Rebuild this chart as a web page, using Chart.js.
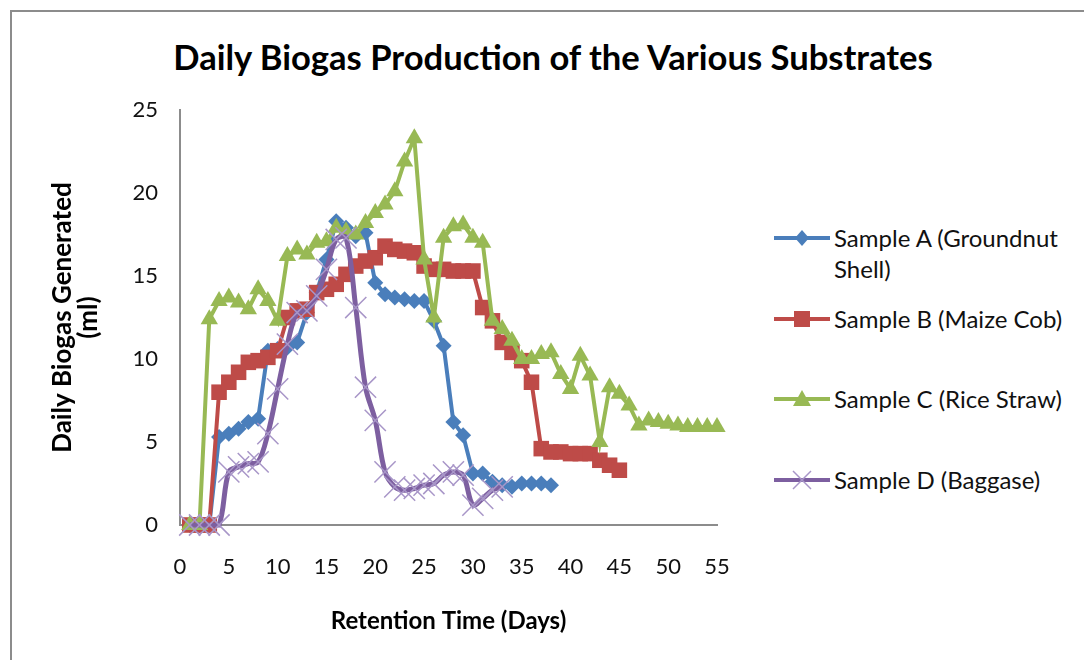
<!DOCTYPE html>
<html>
<head>
<meta charset="utf-8">
<script src="https://cdn.jsdelivr.net/npm/chart.js@4.4.1/dist/chart.umd.min.js"></script>
<style>
  html, body { margin: 0; padding: 0; background: #fff; }
  body { width: 1084px; height: 660px; position: relative; overflow: hidden; font-family: Lato, 'Open Sans', sans-serif; }
  .marco { position: absolute; left: 10px; top: 10px; width: 1090px; height: 700px; border-top: 2px solid #8c8c8c; border-left: 2px solid #8c8c8c; }
  .titulo { position: absolute; left: 22px; right: 0; top: 36px; text-align: center; font-size: 34.6px; font-weight: bold; color: #000; line-height: 42px; }
  #wrap { position: absolute; left: 0; top: 0; width: 760px; height: 660px; }
  .leyenda { position: absolute; left: 774px; top: 0; font-size: 24px; color: #111; }
  .leyenda .item { position: absolute; left: 0; display: flex; align-items: flex-start; white-space: nowrap; }
  .leyenda svg { flex: none; margin-right: 4px; margin-top: 4px; }
  .leyenda span { line-height: 31px; }
</style>
</head>
<body>
<div class="marco"></div>
<div class="titulo">Daily Biogas Production of the Various Substrates</div>
<div id="wrap"><canvas id="grafico" width="760" height="660"></canvas></div>
<div class="leyenda" id="leyenda"></div>
<script>
// Días de retención y biogás diario (ml)
const diasA = [1,2,3,4,5,6,7,8,9,10,11,12,13,14,15,16,17,18,19,20,21,22,23,24,25,26,27,28,29,30,31,32,33,34,35,36,37,38];
const sampleA = [0,0,0,5.3,5.5,5.8,6.2,6.4,10.5,10.6,10.7,11.0,12.8,14.0,16.0,18.3,17.9,17.4,17.6,14.6,13.9,13.7,13.6,13.5,13.5,12.3,10.8,6.2,5.4,3.1,3.1,2.6,2.4,2.3,2.5,2.5,2.5,2.4];

const diasB = [1,2,3,4,5,6,7,8,9,10,11,12,13,14,15,16,17,18,19,20,21,22,23,24,25,26,27,28,29,30,31,32,33,34,35,36,37,38,39,40,41,42,43,44,45];
const sampleB = [0,0,0,8.0,8.6,9.2,9.8,9.9,10.1,10.5,12.5,12.9,13.0,14.0,14.2,14.5,15.1,15.6,15.9,16.1,16.8,16.6,16.5,16.4,15.6,15.4,15.4,15.3,15.3,15.3,13.1,12.3,11.0,10.4,9.9,8.6,4.6,4.4,4.4,4.3,4.3,4.3,3.9,3.6,3.3];

const diasC = [1,2,3,4,5,6,7,8,9,10,11,12,13,14,15,16,17,18,19,20,21,22,23,24,25,26,27,28,29,30,31,32,33,34,35,36,37,38,39,40,41,42,43,44,45,46,47,48,49,50,51,52,53,54,55];
const sampleC = [0,0,12.4,13.5,13.7,13.4,13.0,14.2,13.5,12.3,16.2,16.6,16.3,17.0,17.1,17.9,17.7,17.5,18.2,18.8,19.3,20.1,21.9,23.3,16.0,12.5,17.3,18.0,18.1,17.3,17.0,12.3,11.8,11.1,10.0,10.0,10.3,10.4,9.1,8.2,10.2,9.0,5.0,8.3,7.9,7.2,6.0,6.3,6.2,6.1,6.0,5.9,5.9,5.9,5.9];

const diasD = [1,2,3,4,5,6,7,8,9,10,11,12,13,14,15,16,17,18,19,20,21,22,23,24,25,26,27,28,29,30,31,32,33];
const sampleD = [0,0,0,0,3.2,3.5,3.7,3.8,5.5,8.2,10.9,12.8,12.9,13.8,15.4,17.2,17.3,13.1,8.3,6.3,3.2,2.3,2.1,2.2,2.4,2.5,3.0,3.2,3.0,1.2,1.6,2.1,2.3];

const etiquetas = ['Sample A (Groundnut Shell)', 'Sample B (Maize Cob)', 'Sample C (Rice Straw)', 'Sample D (Baggase)'];

const AZUL = '#4a7ebb', ROJO = '#be4b48', VERDE = '#98b954', VIOLETA = '#7d5fa0', VIOLETA_CLARO = '#a896c8';

const puntos = (xs, ys) => xs.map((x, i) => ({ x, y: ys[i] }));

const series = [
  { label: etiquetas[0], data: puntos(diasA, sampleA), borderColor: AZUL, backgroundColor: AZUL,
    borderWidth: 4, pointStyle: 'rectRot', pointRadius: 8, pointBorderWidth: 0, tension: 0, order: 4 },
  { label: etiquetas[1], data: puntos(diasB, sampleB), borderColor: ROJO, backgroundColor: ROJO,
    borderWidth: 4, pointStyle: 'rect', pointRadius: 11, pointBorderWidth: 0, tension: 0, order: 3 },
  { label: etiquetas[2], data: puntos(diasC, sampleC), borderColor: VERDE, backgroundColor: VERDE,
    borderWidth: 4, pointStyle: 'triangle', pointRadius: 10, pointBorderWidth: 0, tension: 0, order: 2 },
  { label: etiquetas[3], data: puntos(diasD, sampleD), borderColor: VIOLETA, backgroundColor: VIOLETA_CLARO,
    pointBorderColor: VIOLETA_CLARO, borderWidth: 5, pointStyle: 'crossRot', pointRadius: 15, pointBorderWidth: 1.5,
    tension: 0.35, order: 1 },
].map(s => ({ ...s, clip: false, fill: false }));

Chart.defaults.font.family = 'Lato, "Open Sans", sans-serif';
Chart.defaults.color = '#111';

new Chart(document.getElementById('grafico'), {
  type: 'line',
  data: { datasets: series },
  options: {
    responsive: false,
    animation: false,
    layout: { padding: { top: 110, right: 43, left: 0, bottom: 0 } },
    plugins: { legend: { display: false }, tooltip: { enabled: false } },
    scales: {
      x: {
        type: 'linear', min: 0, max: 55,
        ticks: { stepSize: 5, padding: 29, font: { size: 22 }, maxRotation: 0 },
        grid: { display: false, drawTicks: false },
        border: { display: true, color: '#8c8c8c', width: 2 },
        title: { display: true, text: 'Retention Time (Days)', font: { size: 24, weight: 'bold' }, padding: { top: 0, bottom: 24 }, color: '#000' },
        afterFit: s => { s.height = 135; },
      },
      y: {
        min: 0, max: 25,
        ticks: { stepSize: 5, padding: 22, font: { size: 22 } },
        grid: { display: false, drawTicks: false },
        border: { display: true, color: '#8c8c8c', width: 2 },
        title: { display: true, text: ['Daily Biogas Generated', '(ml)'], font: { size: 26, weight: 'bold', lineHeight: 1 }, padding: { top: 50, bottom: 0 }, color: '#000' },
        afterFit: s => { s.width = 180; },
      },
    },
  },
});

// Leyenda al estilo Excel: línea con marcador
function icono(tipo, color, marca) {
  let m = '';
  if (tipo === 'rombo') m = `<polygon points="28,4 35,12 28,20 21,12" fill="${color}"/>`;
  if (tipo === 'cuadrado') m = `<rect x="20" y="4" width="16" height="16" fill="${color}"/>`;
  if (tipo === 'triangulo') m = `<polygon points="28,3 37,19 19,19" fill="${color}"/>`;
  if (tipo === 'cruz') m = `<path d="M19 3 L37 21 M37 3 L19 21" stroke="${marca}" stroke-width="1.5"/>`;
  return `<svg width="56" height="24"><line x1="0" y1="12" x2="56" y2="12" stroke="${color}" stroke-width="4"/>${m}</svg>`;
}
const filas = [
  { top: 222, html: 'Sample A (Groundnut<br>Shell)', ico: icono('rombo', AZUL) },
  { top: 303, html: etiquetas[1], ico: icono('cuadrado', ROJO) },
  { top: 383, html: etiquetas[2], ico: icono('triangulo', VERDE) },
  { top: 464, html: etiquetas[3], ico: icono('cruz', VIOLETA, VIOLETA_CLARO) },
];
document.getElementById('leyenda').innerHTML = filas
  .map(f => `<div class="item" style="top:${f.top}px">${f.ico}<span>${f.html}</span></div>`)
  .join('');
</script>
</body>
</html>
